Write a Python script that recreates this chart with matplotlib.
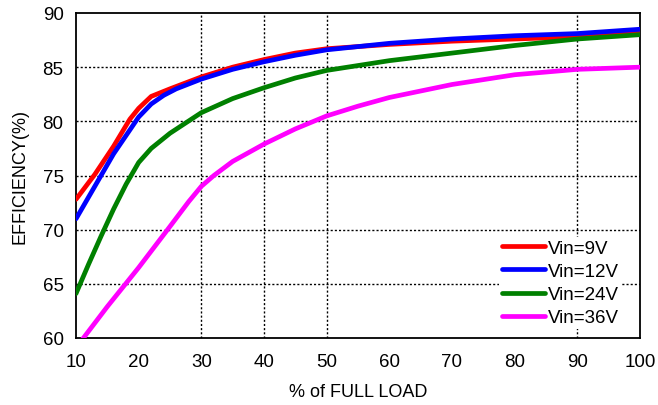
import numpy as np
import matplotlib.pyplot as plt

plt.rcParams['font.family'] = ['Liberation Sans', 'DejaVu Sans']

# ====================================================
# data
load_9 = [10, 13, 16, 18.6, 20, 22, 25, 30, 35, 40, 45, 50, 60, 70, 80, 90, 100]
eff_9 = [72.8, 75.1, 77.7, 80.2, 81.2, 82.3, 83.0, 84.1, 85.0, 85.7, 86.3, 86.7, 87.1, 87.4, 87.6, 87.8, 88.3]

load_12 = [10, 13, 16, 20, 22, 24, 26, 30, 35, 40, 45, 50, 60, 70, 80, 90, 100]
eff_12 = [71.0, 74.0, 77.0, 80.4, 81.6, 82.4, 83.0, 83.9, 84.8, 85.5, 86.1, 86.6, 87.2, 87.6, 87.9, 88.1, 88.5]

load_24 = [10, 12, 14, 16, 18, 20, 22, 25, 30, 35, 40, 45, 50, 60, 70, 80, 90, 100]
eff_24 = [64.1, 66.8, 69.4, 71.9, 74.2, 76.2, 77.5, 78.9, 80.8, 82.1, 83.1, 84.0, 84.7, 85.6, 86.3, 87.0, 87.6, 88.0]

load_36 = [10, 15, 20, 25, 28, 30, 32, 35, 40, 45, 50, 55, 60, 70, 80, 90, 100]
eff_36 = [59.1, 62.9, 66.5, 70.3, 72.6, 74.0, 75.0, 76.3, 77.9, 79.3, 80.5, 81.4, 82.2, 83.4, 84.3, 84.8, 85.0]

labels = ['Vin=9V', 'Vin=12V', 'Vin=24V', 'Vin=36V']
colors = ['#ff0000', '#0000ff', '#008000', '#ff00ff']

x_ticks = [10, 20, 30, 40, 50, 60, 70, 80, 90, 100]
y_ticks = [60, 65, 70, 75, 80, 85, 90]
grid_x = [30, 40, 50, 90]
grid_y = [65, 70, 75, 80, 85]

# ====================================================
def main():
	fig = plt.figure(figsize=(6.58, 4.06), dpi=100)
	ax = fig.add_axes([76/658, 1 - 339/406, 564/658, 325/406])

	for gx in grid_x:
		ax.axvline(gx, color='black', lw=1.0, ls=(0, (1.5, 1.5)), zorder=1)
	for gy in grid_y:
		ax.axhline(gy, color='black', lw=1.0, ls=(0, (1.5, 1.5)), zorder=1)

	series = [(load_9, eff_9), (load_12, eff_12), (load_24, eff_24), (load_36, eff_36)]
	for (xs, ys), lab, c in zip(series, labels, colors):
		ax.plot(xs, ys, color=c, lw=3.4, label=lab, zorder=3,
			solid_joinstyle='round', solid_capstyle='round')

	ax.set_xlim(10, 100)
	ax.set_ylim(60, 90)
	ax.set_xticks(x_ticks)
	ax.set_yticks(y_ticks)
	ax.tick_params(length=0, labelsize=13.5)
	ax.tick_params(axis='x', pad=11)
	ax.tick_params(axis='y', pad=9)
	for s in ax.spines.values():
		s.set_linewidth(1.3)

	ax.set_xlabel('% of FULL LOAD', fontsize=13, labelpad=9)
	ax.set_ylabel('EFFICIENCY(%)', fontsize=13, labelpad=10)

	leg = ax.legend(loc='lower right', bbox_to_anchor=((622 - 76)/564, (339 - 330)/325),
		frameon=True, fontsize=13.5, handlelength=2.3, handletextpad=0.15,
		labelspacing=0.32, borderaxespad=0, borderpad=0.15)
	leg.get_frame().set_edgecolor('none')
	leg.get_frame().set_facecolor('white')
	leg.get_frame().set_alpha(1)
	leg.set_zorder(5)

	fig.savefig('out.png', dpi=100)

# ====================================================
if __name__ == "__main__":
	main()
